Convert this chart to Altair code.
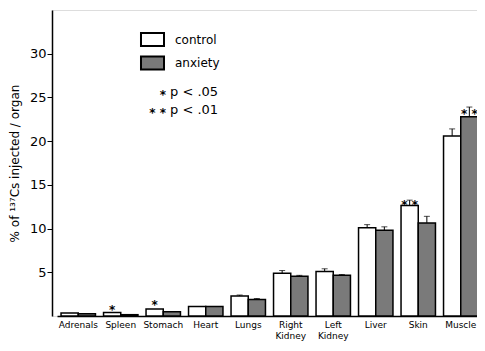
import altair as alt
import pandas as pd

organs = ["Adrenals", "Spleen", "Stomach", "Heart", "Lungs",
          "Right Kidney", "Left Kidney", "Liver", "Skin", "Muscle"]
control = [0.35, 0.4, 0.8, 1.1, 2.3, 4.9, 5.1, 10.1, 12.65, 20.6]
anxiety = [0.25, 0.15, 0.5, 1.1, 1.9, 4.55, 4.65, 9.8, 10.65, 22.8]
control_se = [0, 0, 0, 0, 0.1, 0.3, 0.3, 0.35, 0.6, 0.8]
anxiety_se = [0, 0, 0, 0, 0.1, 0.1, 0.1, 0.4, 0.75, 1.1]

sig_organ = ["Spleen", "Stomach", "Skin", "Muscle"]
sig_group = ["control", "control", "control", "anxiety"]
sig_label = ["*", "*", "*   *", "*   *"]
sig_y = [1.0, 1.6, 13.0, 23.5]

groups = ["control", "anxiety"]
y_ticks = [5, 10, 15, 20, 25, 30]
note_stars = ["*", "* *"]
note_texts = ["p < .05", "p < .01"]

rows = []
for i, o in enumerate(organs):
    rows.append(dict(organ=o, group="control", value=control[i], hi=control[i] + control_se[i], se=control_se[i]))
    rows.append(dict(organ=o, group="anxiety", value=anxiety[i], hi=anxiety[i] + anxiety_se[i], se=anxiety_se[i]))
df = pd.DataFrame(rows)
err = df[df.se > 0]
sig = pd.DataFrame(dict(organ=sig_organ, group=sig_group, label=sig_label, y=sig_y))

FONT = "DejaVu Sans"

label_expr = ("datum.label == 'Right Kidney' ? ['Right', '\u00a0\u00a0\u00a0\u00a0Kidney'] : "
              "datum.label == 'Left Kidney' ? ['Left', '\u00a0\u00a0\u00a0\u00a0Kidney'] : datum.label")

x = alt.X("organ:N", sort=organs, title=None,
          scale=alt.Scale(range=[5, 430], paddingInner=0.19, paddingOuter=0.095),
          axis=alt.Axis(labelAngle=0, ticks=False, labelFontSize=9, labelFont=FONT,
                        labelPadding=4, labelLineHeight=11, labelExpr=label_expr,
                        domainColor="black", domainWidth=1.5, labelColor="black"))
xo = alt.XOffset("group:N", sort=groups, scale=alt.Scale(domain=groups))
y_scale = alt.Scale(domain=[0, 35], nice=False)

bars = alt.Chart(df).mark_bar(stroke="black", strokeWidth=1.5).encode(
    x=x,
    xOffset=xo,
    y=alt.Y("value:Q", scale=y_scale,
            title="% of ¹³⁷Cs injected / organ",
            axis=alt.Axis(values=y_ticks, grid=False, tickSize=5, tickColor="black",
                          domainColor="black", domainWidth=1.5, labelFontSize=13,
                          labelFont=FONT, labelColor="black", labelPadding=1,
                          titleFont=FONT, titleFontSize=12, titleFontWeight="normal",
                          titleColor="black", titlePadding=8)),
    fill=alt.Fill("group:N", sort=groups,
                  scale=alt.Scale(domain=groups, range=["white", "#7a7a7a"]),
                  legend=alt.Legend(orient="none", legendX=93, legendY=22, title=None,
                                    symbolType="M-1.77,-1H1.77V1H-1.77Z", symbolSize=169,
                                    symbolStrokeWidth=2, symbolStrokeColor="black",
                                    labelFontSize=12, labelFont=FONT, labelColor="black",
                                    labelOffset=15, rowPadding=2.5, padding=0)),
)

rules = alt.Chart(err).mark_rule(color="black", strokeWidth=1).encode(
    x=alt.X("organ:N", sort=organs), xOffset=xo,
    y=alt.Y("value:Q", scale=y_scale), y2="hi:Q")

caps = alt.Chart(err).mark_tick(color="black", thickness=1, size=6).encode(
    x=alt.X("organ:N", sort=organs), xOffset=xo,
    y=alt.Y("hi:Q", scale=y_scale))

stars = alt.Chart(sig).mark_text(fontSize=12, fontWeight="bold", font=FONT, dy=3, color="black").encode(
    x=alt.X("organ:N", sort=organs), xOffset=xo,
    y=alt.Y("y:Q", scale=y_scale), text="label:N")

note_layers = []
for i in range(2):
    nd = pd.DataFrame(dict(star=[note_stars[i]], text=[note_texts[i]]))
    ypos = 82 + 18 * i
    note_layers.append(alt.Chart(nd).mark_text(align="right", fontSize=12, fontWeight="bold", font=FONT,
                                               dy=3, color="black").encode(
        x=alt.value(114), y=alt.value(ypos), text="star:N"))
    note_layers.append(alt.Chart(nd).mark_text(align="left", fontSize=13, font=FONT, color="black").encode(
        x=alt.value(118), y=alt.value(ypos), text="text:N"))

chart = alt.layer(bars, rules, caps, stars, *note_layers).properties(
    width=425, height=306,
    autosize=alt.AutoSizeParams(type="none"),
    padding={"left": 44, "top": 2, "right": 0, "bottom": 27},
).configure_view(stroke=None).configure(background="white")

chart.save("out.html", embed_options={"renderer": "svg", "actions": False})
